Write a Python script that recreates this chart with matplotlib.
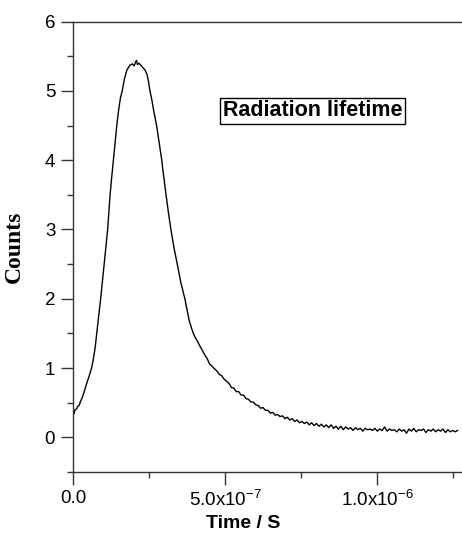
import numpy as np
import matplotlib
matplotlib.use("Agg")
import matplotlib.pyplot as plt
from matplotlib.ticker import MultipleLocator, FixedLocator, FixedFormatter

plt.rcParams["font.family"] = ["Liberation Sans", "DejaVu Sans"]
plt.rcParams["mathtext.default"] = "regular"

# rise and peak (time in ns)
RISE_T_NS = [0, 2, 6, 11, 15, 19, 24, 30, 36, 42, 48, 54, 60, 66, 72, 77, 82, 86,
             90, 95, 101, 107, 113, 117, 121, 126, 132, 137, 143, 149, 155, 161,
             168, 176, 186, 194, 200, 205, 208, 211, 216, 222, 230, 236, 243, 248,
             252, 258, 265, 274, 282, 291, 294, 305, 313, 321, 331, 342, 354, 367,
             381, 393]
RISE_COUNTS = [0.35, 0.34, 0.40, 0.41, 0.45, 0.46, 0.52, 0.58, 0.66, 0.75, 0.83,
               0.91, 1.00, 1.13, 1.30, 1.50, 1.69, 1.85, 2.00, 2.22, 2.50, 2.76,
               3.00, 3.25, 3.50, 3.74, 4.00, 4.23, 4.50, 4.72, 4.90, 5.00, 5.17,
               5.30, 5.37, 5.39, 5.36, 5.42, 5.44, 5.38, 5.40, 5.37, 5.33, 5.30,
               5.23, 5.12, 5.00, 4.88, 4.70, 4.50, 4.26, 4.00, 3.88, 3.50, 3.24,
               3.00, 2.74, 2.50, 2.23, 2.00, 1.69, 1.52]

# noisy decay tail, one value per 8 ns channel starting at 400 ns
TAIL_START_NS = 400
CHANNEL_NS = 8
TAIL_COUNTS = [1.45, 1.39, 1.32, 1.26, 1.19, 1.14, 1.06, 1.03, 0.99, 0.96, 0.91,
               0.89, 0.84, 0.81, 0.78, 0.72, 0.71, 0.66, 0.66, 0.61, 0.61, 0.56,
               0.55, 0.51, 0.51, 0.47, 0.46, 0.42, 0.43, 0.39, 0.39, 0.35, 0.36,
               0.32, 0.33, 0.30, 0.31, 0.27, 0.29, 0.25, 0.27, 0.23, 0.25, 0.21,
               0.23, 0.20, 0.22, 0.18, 0.21, 0.17, 0.20, 0.16, 0.19, 0.15, 0.18,
               0.14, 0.18, 0.13, 0.16, 0.12, 0.16, 0.11, 0.15, 0.12, 0.14, 0.10,
               0.14, 0.11, 0.13, 0.09, 0.13, 0.11, 0.12, 0.10, 0.13, 0.09, 0.12,
               0.10, 0.15, 0.09, 0.12, 0.10, 0.11, 0.08, 0.12, 0.09, 0.11, 0.06,
               0.12, 0.09, 0.13, 0.08, 0.11, 0.10, 0.12, 0.07, 0.11, 0.09, 0.12,
               0.08, 0.11, 0.09, 0.12, 0.07, 0.11, 0.08, 0.10, 0.08, 0.10]

X_TICKS = [0.0, 5.0e-7, 1.0e-6]
X_TICK_LABELS = ["0.0", "5.0x10$^{-7}$", "1.0x10$^{-6}$"]

tail_t = TAIL_START_NS + CHANNEL_NS * np.arange(len(TAIL_COUNTS))
t = np.concatenate([RISE_T_NS, tail_t]) * 1e-9
counts = np.concatenate([RISE_COUNTS, TAIL_COUNTS])

fig = plt.figure(figsize=(4.62, 5.34), dpi=100)
ax = fig.add_axes([73.3 / 462, 62 / 534, 388.7 / 462, 450.4 / 534])

ax.plot(t, counts, color="black", lw=1.0)

ax.set_xlim(0, 1.2785e-6)
ax.set_ylim(-0.5, 6)
ax.spines["right"].set_visible(False)
for s in ["left", "top", "bottom"]:
    ax.spines[s].set_linewidth(1.0)
    ax.spines[s].set_color("#333333")

ax.xaxis.set_major_locator(FixedLocator(X_TICKS))
ax.xaxis.set_major_formatter(FixedFormatter(X_TICK_LABELS))
ax.xaxis.set_minor_locator(MultipleLocator(2.5e-7))
ax.yaxis.set_major_locator(MultipleLocator(1))
ax.yaxis.set_minor_locator(MultipleLocator(0.5))
ax.tick_params(which="major", direction="out", length=9, width=1, labelsize=13.5,
               color="#333333", pad=4)
ax.tick_params(which="minor", direction="out", length=4.5, width=1, color="#333333")
ax.tick_params(top=False, right=False, which="both")

ax.set_ylabel("Counts", family="Liberation Serif", fontweight="bold", fontsize=17)
ax.yaxis.set_label_coords(-0.124, 0.5)
ax.set_xlabel("Time / S", fontweight="bold", fontsize=14)
ax.xaxis.set_label_coords(0.437, -0.096)

ax.text(7.88e-7, 4.71, "Radiation lifetime", fontweight="bold", fontsize=15.5,
        ha="center", va="center",
        bbox=dict(boxstyle="square,pad=0.13", fc="white", ec="black", lw=1))

fig.savefig("out.png", dpi=100)
